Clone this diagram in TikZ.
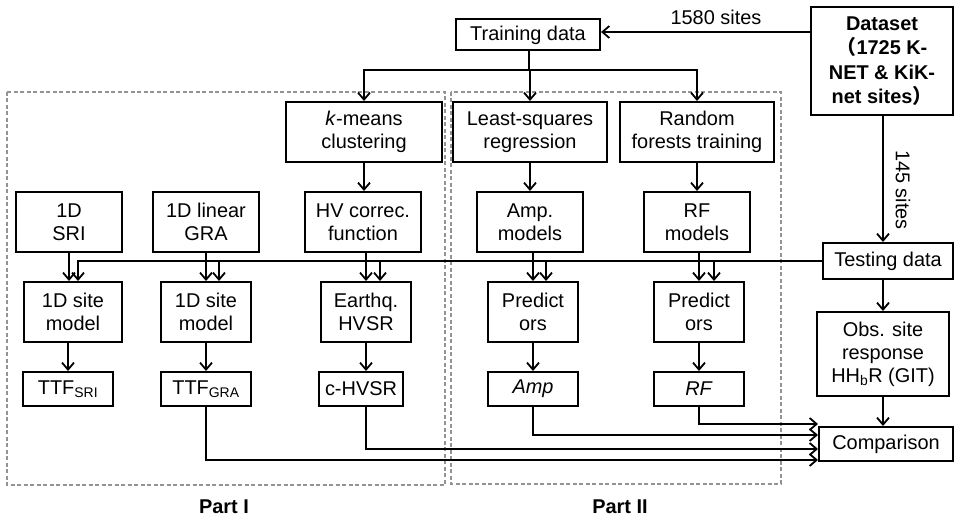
\documentclass[tikz,border=0pt]{standalone}
\usepackage{fontspec}
\setmainfont{Liberation Sans}
\newfontfamily\cjk{Noto Sans CJK SC}
\usetikzlibrary{arrows.meta,calc}
\begin{document}
\begin{tikzpicture}[x=1bp,y=-1bp,
  every node/.style={font=\fontsize{20}{23}\selectfont},
  bx/.style={draw,line width=2bp,inner sep=0pt,align=center},
  arr/.style={line width=1.9bp,-{Straight Barb[length=7bp,width=12bp,line width=1.8bp]}},
  ln/.style={line width=1.9bp},
  dashbox/.style={draw=gray!85,line width=1.1bp,dash pattern=on 4bp off 2.5bp}]
\useasboundingbox (0,0) rectangle (955,520);
% dashed regions
\draw[dashbox] (7,92) rectangle (445,485);
\draw[dashbox] (451,92) rectangle (781,484);
% nodes
\node[bx,minimum width=144bp,minimum height=31bp] (train) at (528,35) {Training data};
\node[bx,line width=2.8bp,minimum width=142bp,minimum height=108bp,font=\fontsize{20}{24.5}\selectfont\bfseries] (data) at (882,61) {Dataset\\{\cjk （}1725 K-\\NET \& KiK-\\net sites{\cjk ）}};
\node[bx,minimum width=156bp,minimum height=60bp] (kmeans) at (364,132) {\textit{k}-means\\clustering};
\node[bx,minimum width=154bp,minimum height=60bp] (lsq) at (530,132) {Least-squares\\regression};
\node[bx,minimum width=154bp,minimum height=60bp] (rft) at (697,132) {Random\\forests training};
\node[bx,minimum width=106bp,minimum height=60bp] (sri) at (69,222) {1D\\SRI};
\node[bx,minimum width=106bp,minimum height=60bp] (gra) at (206,222) {1D linear\\GRA};
\node[bx,minimum width=116bp,minimum height=60bp] (hvc) at (363,222) {HV correc.\\function};
\node[bx,minimum width=106bp,minimum height=60bp] (ampm) at (530,222) {Amp.\\models};
\node[bx,minimum width=106bp,minimum height=60bp] (rfm) at (697,222) {RF\\models};
\node[bx,minimum width=130bp,minimum height=36bp] (test) at (888,261) {Testing data};
\node[bx,minimum width=98bp,minimum height=60bp] (site1) at (73,312) {1D site\\model};
\node[bx,minimum width=90bp,minimum height=60bp] (site2) at (206,312) {1D site\\model};
\node[bx,minimum width=90bp,minimum height=60bp] (ehv) at (366,312) {Earthq.\\HVSR};
\node[bx,minimum width=90bp,minimum height=60bp] (pa) at (533,312) {Predict\\ors};
\node[bx,minimum width=90bp,minimum height=60bp] (pr) at (699,312) {Predict\\ors};
\node[bx,minimum width=90bp,minimum height=34bp] (ttfs) at (68,389) {TTF\textsubscript{SRI}};
\node[bx,minimum width=90bp,minimum height=34bp] (ttfg) at (206,389) {TTF\textsubscript{GRA}};
\node[bx,minimum width=84bp,minimum height=34bp] (chv) at (361,389) {c-HVSR};
\node[bx,minimum width=90bp,minimum height=34bp] (amp) at (533,389) {\textit{Amp}};
\node[bx,minimum width=90bp,minimum height=34bp] (rf) at (699,389) {\textit{RF}};
\node[bx,minimum width=132bp,minimum height=84bp] (obs) at (883,354) {Obs. site\\response\\HH\textsubscript{b}R (GIT)};
\node[bx,minimum width=134bp,minimum height=34bp] (cmp) at (886,444) {Comparison};
% labels
\node (l1580) at (716,17) {1580 sites};
\node[rotate=-90] (l145) at (903,190) {145 sites};
\node[font=\fontsize{20}{23}\selectfont\bfseries] (p1) at (224,507) {Part I};
\node[font=\fontsize{20}{23}\selectfont\bfseries] (p2) at (620,507) {Part II};
% connectors top
\coordinate (dw) at ($(data.west)+(0,-29)$);
\draw[arr] (dw) -- (train.east |- dw);
\coordinate (tj) at (529,70);
\draw[ln] (train.south -| tj) -- (tj);
\draw[arr] (tj) -| (kmeans.north);
\draw[arr] (tj) -- (lsq.north |- tj) -- (lsq.north);
\draw[arr] (tj) -| (rft.north);
\draw[arr] (kmeans.south) -- (kmeans.south |- hvc.north);
\draw[arr] (lsq.south) -- (ampm.north);
\draw[arr] (rft.south) -- (rfm.north);
\draw[arr] (obs.north |- data.south) -- (obs.north |- test.north);
% row2 -> row3
\draw[arr] (sri.south) -- (sri.south |- site1.north);
\draw[arr] (gra.south) -- (gra.south |- site2.north);
\draw[arr] (ehv.north |- hvc.south) -- (ehv.north);
\draw[arr] (pa.north |- ampm.south) -- (pa.north);
\draw[arr] (pr.north |- rfm.south) -- (pr.north);
% testing data line
\draw[arr] (test.west) -| ($(site1.north)+(5,0)$);
\draw[arr] (test.west) -| ($(site2.north)+(13,0)$);
\draw[arr] (test.west) -| ($(ehv.north)+(14,0)$);
\draw[arr] (test.west) -| ($(pa.north)+(13,0)$);
\draw[arr] (test.west) -| ($(pr.north)+(15,0)$);
% row3 -> row4
\draw[arr] (ttfs.north |- site1.south) -- (ttfs.north);
\draw[arr] (site2.south) -- (site2.south |- ttfg.north);
\draw[arr] (ehv.south) -- (ehv.south |- chv.north);
\draw[arr] (pa.south) -- (pa.south |- amp.north);
\draw[arr] (pr.south) -- (pr.south |- rf.north);
% right column
\draw[arr] (obs.north |- test.south) -- (obs.north);
\draw[arr] (obs.south) -- (obs.south |- cmp.north);
% to comparison
\draw[arr] (rf.south) |- ($(cmp.west)+(0,-20)$);
\draw[arr] (amp.south) |- ($(cmp.west)+(0,-9)$);
\draw[arr] (chv.south -| ehv.south) |- ($(cmp.west)+(0,5)$);
\draw[arr] (ttfg.south) |- ($(cmp.west)+(0,16)$);
\end{tikzpicture}
\end{document}
